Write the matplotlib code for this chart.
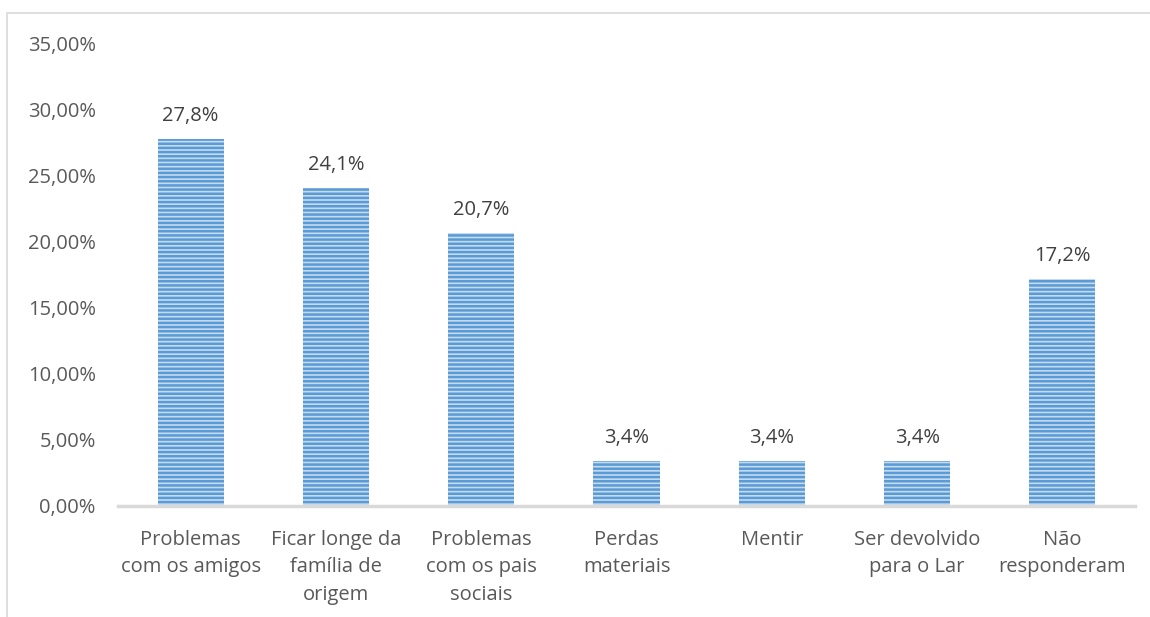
import matplotlib.pyplot as plt
from matplotlib.patches import Rectangle

plt.rcParams['font.family'] = ['Open Sans', 'DejaVu Sans']
plt.rcParams['hatch.color'] = '#5B9BD5'
plt.rcParams['hatch.linewidth'] = 1.8

categorias = ['Problemas\ncom os amigos', 'Ficar longe da\nfamília de\norigem',
              'Problemas\ncom os pais\nsociais', 'Perdas\nmateriais', 'Mentir',
              'Ser devolvido\npara o Lar', 'Não\nresponderam']
valores = [27.8, 24.1, 20.7, 3.4, 3.4, 3.4, 17.2]
yticks = [0, 5, 10, 15, 20, 25, 30, 35]

fig = plt.figure(figsize=(11.5, 6.17), dpi=100)
ax = fig.add_axes([0.1026, 0.18, 0.8844, 0.7487])

# moldura cinza do gráfico
fig.patches.append(Rectangle((7 / 1150, -0.1), 1.2, 1.1 - 13 / 617,
                             transform=fig.transFigure, fill=False,
                             edgecolor='#D9D9D9', linewidth=1.2))

x = range(len(valores))
ax.bar(x, valores, width=0.455, color='#C4DAF0', linewidth=0, hatch='----')

for i, v in enumerate(valores):
    ax.text(i, v + 1.0, ('%.1f%%' % v).replace('.', ','), ha='center', va='bottom',
            fontsize=14.5, color='#404040')

ax.set_xlim(-0.5, len(valores) - 0.5)
ax.set_ylim(0, 35)
ax.set_yticks(yticks)
ax.set_yticklabels([('%.2f%%' % t).replace('.', ',') for t in yticks])
ax.set_xticks(list(x))
ax.set_xticklabels(categorias, linespacing=1.5)
ax.tick_params(axis='both', length=0, labelsize=14.5, labelcolor='#595959')
ax.tick_params(axis='y', pad=16)
ax.tick_params(axis='x', pad=17)

for s in ['top', 'right', 'left']:
    ax.spines[s].set_visible(False)
ax.spines['bottom'].set_color('#D9D9D9')
ax.spines['bottom'].set_linewidth(2.5)

plt.savefig('out.png', dpi=100)
